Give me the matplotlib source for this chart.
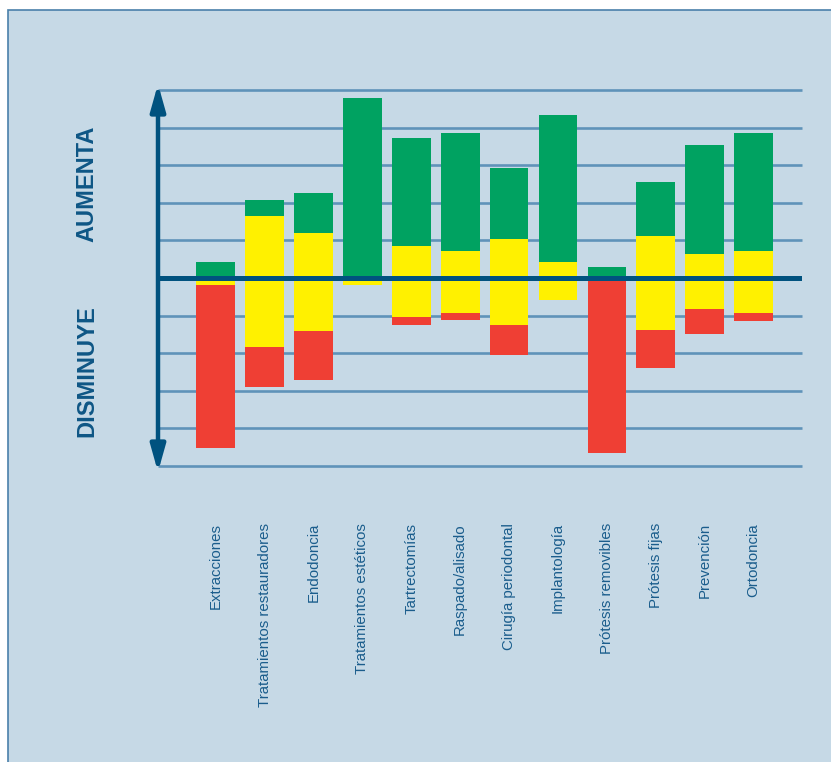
import matplotlib
matplotlib.use("Agg")
import matplotlib.pyplot as plt
from matplotlib.patches import Rectangle, FancyArrowPatch
import numpy as np

plt.rcParams['font.family'] = ['Liberation Sans', 'DejaVu Sans']

categories = ["Extracciones", "Tratamientos restauradores", "Endodoncia",
              "Tratamientos estéticos", "Tartrectomías", "Raspado/alisado",
              "Cirugía periodontal", "Implantología", "Prótesis removibles",
              "Prótesis fijas", "Prevención", "Ortodoncia"]
green_top = [4.2, 20.7, 22.5, 47.8, 37.2, 38.5, 29.2, 43.3, 2.8, 25.5, 35.3, 38.5]
yellow_top = [0.0, 16.4, 11.9, 0.0, 8.4, 7.1, 10.3, 4.2, 0.0, 11.1, 6.3, 7.1]
yellow_bottom = [-1.9, -18.4, -14.2, -1.9, -10.5, -9.4, -12.4, -5.9, 0.0, -13.9, -8.3, -9.4]
red_bottom = [-45.2, -29.1, -27.2, -1.9, -12.4, -11.3, -20.6, -5.9, -46.6, -24.0, -15.0, -11.5]
grid_levels = [-50, -40, -30, -20, -10, 10, 20, 30, 40, 50]

BG = "#c6d9e6"
GRID = "#5f93b9"
DARK = "#00527f"
GREEN = "#00a261"
YELLOW = "#fff100"
RED = "#ef3f34"
TXT = "#1a5d8c"

W, H = 831, 762
fig = plt.figure(figsize=(W / 100, H / 100), dpi=100)
fig.patch.set_facecolor("white")

# panel background with border
panel = Rectangle((8 / W, -0.05), 1.1, (H - 10) / H + 0.05, transform=fig.transFigure,
                  facecolor=BG, edgecolor="#4a80aa", linewidth=1.2, zorder=-10)
fig.patches.append(panel)

left, right, top, bottom = 158, 802, 90, 466
ax = fig.add_axes([left / W, (H - bottom) / H, (right - left) / W, (bottom - top) / H])
ax.set_zorder(1)
ax.set_facecolor("none")
for s in ax.spines.values():
    s.set_visible(False)

x = np.arange(len(categories))
ax.set_xlim(-1.18, 11.99)
ax.set_ylim(-50, 50)

for g in grid_levels:
    ax.axhline(g, color=GRID, lw=1.9, zorder=1, clip_on=False, solid_capstyle="butt")

gt = np.array(green_top); yt = np.array(yellow_top)
yb = np.array(yellow_bottom); rb = np.array(red_bottom)
bw = 0.79
ax.bar(x, gt - yt, bottom=yt, width=bw, color=GREEN, zorder=2, linewidth=0)
ax.bar(x, yt - yb, bottom=yb, width=bw, color=YELLOW, zorder=2, linewidth=0)
ax.bar(x, yb - rb, bottom=rb, width=bw, color=RED, zorder=2, linewidth=0)

ax.axhline(0, color=DARK, lw=3.6, zorder=4, solid_capstyle="butt")

arrow = FancyArrowPatch((-1.18, -51.6), (-1.18, 51.6),
                        arrowstyle="<|-|>,head_length=16,head_width=4.5",
                        mutation_scale=1, shrinkA=0, shrinkB=0,
                        color=DARK, lw=3.2, zorder=5, clip_on=False)
ax.add_patch(arrow)

ax.set_yticks([])
ax.set_xticks(x)
ax.set_xticklabels(categories, rotation=90, fontsize=10.8, color=TXT)
ax.tick_params(axis="x", length=0, pad=41)

fig.text(87 / W, 1 - 183.5 / H, "AUMENTA", rotation=90, ha="center", va="center",
         fontsize=17, fontweight="bold", color="#0e5685")
fig.text(87 / W, 1 - 371 / H, "DISMINUYE", rotation=90, ha="center", va="center",
         fontsize=17, fontweight="bold", color="#0e5685")

fig.savefig("out.png", dpi=100, facecolor=fig.get_facecolor())
